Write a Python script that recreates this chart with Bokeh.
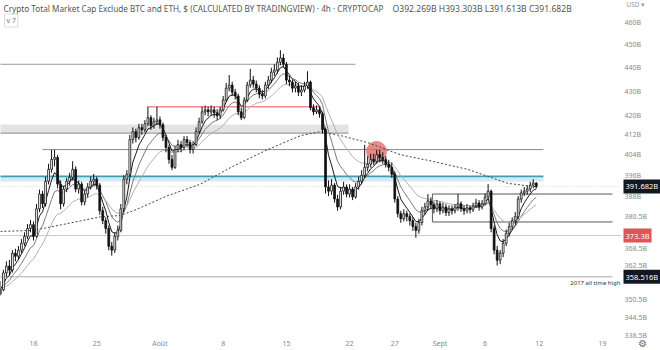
import numpy as np
import pandas as pd
from bokeh.plotting import figure
from bokeh.models import Range1d, FixedTicker, CustomJSTickFormatter, Label
from bokeh.embed import file_html
from bokeh.resources import INLINE

# ---------------- data ----------------
title_text = "Crypto Total Market Cap Exclude BTC and ETH, $ (CALCULATED BY TRADINGVIEW) · 4h · CRYPTOCAP"
ohlc_text = "O392.269B H393.303B L391.613B C391.682B"

origin = pd.Timestamp("2022-07-18")
first_candle = "2022-07-14 08:00"
candle_freq = "8h"
first_open = 352.5

close = [354.0,359.9,362.3,360.9,366.9,365.8,368.0,370.5,373.0,375.9,
377.3,373.0,383.2,388.8,385.1,393.7,398.3,402.2,403.0,392.6,
385.1,390.7,393.7,395.2,398.3,390.7,392.6,385.8,388.8,391.5,
393.7,394.5,392.2,382.5,378.8,375.9,369.4,368.0,373.0,375.2,
383.2,394.5,396.4,410.1,413.3,410.9,414.9,414.1,416.5,419.0,
415.7,417.3,418.1,416.1,410.9,406.9,402.2,399.1,406.1,408.1,
406.9,410.1,408.9,406.1,408.1,413.3,417.3,421.4,422.2,421.4,
422.2,421.0,419.8,422.2,426.3,431.3,432.6,429.6,428.0,421.4,
419.0,426.3,432.6,434.7,433.0,431.3,428.8,428.0,432.6,434.7,
438.1,439.0,442.4,444.2,441.5,434.7,433.9,431.3,432.2,429.6,
430.5,432.2,433.9,423.1,421.4,422.2,420.6,414.1,391.5,389.9,
392.2,386.9,383.9,389.9,391.5,388.8,390.7,387.7,391.5,393.7,
396.0,399.1,400.3,402.2,401.4,404.1,403.0,402.2,400.3,399.1,
396.4,386.9,381.4,379.5,381.4,380.3,378.8,376.6,375.2,378.1,
382.5,383.9,386.2,384.7,383.2,385.1,382.5,383.9,381.8,383.2,
382.5,383.9,385.1,383.2,382.5,383.6,382.9,384.3,385.4,383.9,
385.1,387.7,389.9,375.9,368.0,364.4,366.9,370.5,374.1,376.6,
378.8,380.3,386.9,389.2,389.9,390.7,392.2,393.0,391.7]

high = [357.0,361.0,364.0,364.5,368.0,368.5,369.5,372.0,374.5,377.5,
379.0,378.5,385.0,390.5,390.0,395.5,400.5,406.0,406.0,404.0,
394.0,392.0,395.0,397.0,401.5,399.5,394.0,393.5,390.0,393.0,
395.5,396.5,395.5,393.0,384.0,380.0,377.0,371.0,374.5,377.0,
385.0,396.0,398.0,412.0,415.0,414.5,416.5,416.5,418.0,423.5,
420.0,419.0,423.5,419.5,417.0,412.0,408.0,404.0,407.5,410.0,
409.5,411.5,411.5,410.0,409.5,415.0,419.0,423.5,424.0,423.5,
424.0,423.5,422.5,423.5,428.0,433.5,436.9,434.0,431.0,429.0,
423.0,427.5,434.0,439.5,436.5,434.5,432.5,430.5,434.0,436.5,
440.0,441.5,444.5,447.6,446.0,442.5,436.5,435.0,434.0,433.5,
432.5,434.0,438.5,434.5,424.5,424.0,423.5,421.5,415.0,394.0,
394.5,393.0,388.5,391.5,393.5,392.5,392.5,391.5,393.0,395.5,
398.0,408.0,403.5,404.5,404.5,406.0,406.0,405.0,403.5,402.0,
401.0,397.5,388.0,382.5,383.0,382.5,381.5,380.0,378.0,379.5,
384.0,385.5,388.8,387.5,386.0,386.5,386.0,385.5,385.0,384.5,
384.5,385.0,388.8,386.0,384.5,385.0,384.5,385.5,387.0,386.5,
386.5,389.0,392.6,390.5,377.0,369.5,368.0,372.0,375.5,378.0,
380.0,382.0,388.0,390.5,391.5,392.0,393.5,394.5,393.3]

low = [352.0,353.5,358.5,359.0,360.0,364.0,364.5,367.0,369.5,372.0,
374.5,371.5,372.5,382.0,383.5,384.0,392.5,397.0,399.5,391.0,
383.0,384.0,389.5,392.0,394.0,389.5,389.0,384.5,384.5,387.5,
390.5,392.0,390.5,381.0,377.5,374.0,368.0,366.0,367.0,371.5,
374.5,382.0,392.5,395.5,408.5,409.0,410.0,412.0,413.0,415.5,
414.0,414.5,416.0,414.5,409.5,405.0,400.5,398.0,398.5,405.0,
405.0,406.0,407.0,404.5,404.5,407.5,412.5,416.5,420.0,419.5,
420.0,419.0,418.0,418.5,421.5,425.5,430.0,428.0,426.5,420.0,
418.0,418.5,425.5,431.5,431.5,429.5,427.0,426.5,427.0,431.0,
433.5,436.5,437.5,441.0,440.0,433.0,432.0,429.5,429.5,428.0,
428.0,429.5,431.0,422.0,420.0,420.5,419.0,412.5,389.0,388.0,
388.5,385.5,382.5,383.0,388.5,387.5,387.5,386.5,387.0,390.5,
392.5,395.0,397.5,399.0,400.0,400.5,401.0,400.5,399.0,397.5,
395.0,385.5,380.0,378.0,378.5,378.5,377.0,375.0,372.5,374.0,
377.0,381.0,382.5,383.0,381.5,382.0,381.0,381.5,380.5,380.5,
381.0,381.5,382.5,382.0,381.0,381.5,381.5,382.0,383.5,382.5,
383.0,384.5,386.5,374.5,366.5,362.5,363.0,365.5,369.5,373.0,
375.5,377.5,379.5,385.5,388.0,388.5,389.5,391.0,391.0]

# slow moving average
ma_dates = ["2022-07-14 08:00", "2022-07-18 00:00", "2022-07-21 18:00", "2022-07-25 10:00",
            "2022-07-27 14:00", "2022-07-29 02:00", "2022-08-01 19:00", "2022-08-05 12:00",
            "2022-08-09 02:00", "2022-08-12 22:00", "2022-08-16 14:00", "2022-08-18 19:00",
            "2022-08-21 00:00", "2022-08-24 00:00", "2022-08-27 14:00", "2022-08-31 07:00",
            "2022-09-04 02:00", "2022-09-06 07:00", "2022-09-08 12:00", "2022-09-11 16:00"]
ma_vals = [374.8, 375.2, 377.7, 380.2, 380.7, 382.5, 388.1, 392.6, 399.5, 406.1,
           411.7, 413.3, 411.7, 408.9, 404.1, 401.4, 398.3, 395.6, 392.9, 391.5]

ema_spans = [5, 10, 20]

# drawn levels
grey_top_level = 441.5
grey_top_span = ["2022-07-14 00:00", "2022-08-22 15:30"]
red_level = 423.5
red_span = ["2022-07-30 15:00", "2022-08-18 19:00"]
band_top, band_bottom = 416.2, 412.7
band_span = ["2022-07-14 00:00", "2022-08-21 21:00"]
mid_level = 406.1
mid_span = ["2022-07-19 00:00", "2022-09-12 11:00"]
teal_level, teal_band_bottom = 395.6, 393.6
teal_span = ["2022-07-14 00:00", "2022-09-12 11:00"]
box_top, box_bottom = 388.8, 378.3
box_span = ["2022-08-31 04:00", "2022-09-20 02:30"]
support_level = 373.3
last_price = 391.682
ath_2017 = 358.5168
full_span = ["2022-07-14 00:00", "2022-09-20 02:30"]
scale_edge = "2022-09-21 02:00"
circle_date, circle_price = "2022-08-24 23:30", 405.3

y_ticks = [460, 450, 440, 430, 420, 412, 404, 396, 388, 380.5, 368.5, 362.5, 350.5, 344.5, 338.5]
x_tick_dates = ["2022-07-18", "2022-07-25", "2022-08-01", "2022-08-08", "2022-08-15",
                "2022-08-22", "2022-08-27", "2022-09-01", "2022-09-06", "2022-09-12", "2022-09-19"]
x_tick_labels = ["18", "25", "Août", "8", "15", "22", "27", "Sept", "6", "12", "19"]

# ---------------- helpers ----------------
def to_days(s):
    return (pd.Timestamp(s) - origin) / pd.Timedelta(days=1)

t = pd.date_range(first_candle, periods=len(close), freq=candle_freq)
xc = np.array((t - origin) / pd.Timedelta(days=1), dtype=float)
c = np.array(close)
o = np.array([first_open] + close[:-1])
h = np.array(high)
l = np.array(low)
up = c >= o

W, H = 660, 350
p = figure(width=W, height=H, output_backend="svg", toolbar_location=None,
           y_axis_type="log", y_axis_location="right",
           x_range=Range1d(-3.654, 69.42), y_range=Range1d(334.2, 469.96),
           min_border_left=0, min_border_top=0, min_border_right=0, min_border_bottom=0)
p.outline_line_color = None
p.xgrid.grid_line_color = None
p.ygrid.grid_line_color = None
p.background_fill_color = "white"
p.border_fill_color = "white"

FONT = "Noto Sans"

# band and levels
x0, x1 = to_days(band_span[0]), to_days(band_span[1])
p.quad(left=[x0], right=[x1], top=[band_top], bottom=[band_bottom],
       fill_color="#e3e3e3", line_color=None)
p.segment([x0], [band_bottom], [x1], [band_bottom], line_color="#8c8c8c", line_width=1)

x0, x1 = to_days(teal_span[0]), to_days(teal_span[1])
p.quad(left=[x0], right=[x1], top=[teal_level], bottom=[teal_band_bottom],
       fill_color="#cfecf3", line_color=None)
p.segment([x0], [teal_level], [x1], [teal_level], line_color="#3c9fb4", line_width=1.6)

p.segment([to_days(grey_top_span[0])], [grey_top_level], [to_days(grey_top_span[1])], [grey_top_level],
          line_color="#9a9a9a", line_width=1)
p.segment([to_days(red_span[0])], [red_level], [to_days(red_span[1])], [red_level],
          line_color="#f08c8c", line_width=1.4)
p.segment([to_days(mid_span[0])], [mid_level], [to_days(mid_span[1])], [mid_level],
          line_color="#8a8a8a", line_width=1)

fx0, fx1 = to_days(full_span[0]), to_days(full_span[1])
ex = to_days(scale_edge)
p.segment([fx0], [support_level], [ex], [support_level], line_color="#f3b8b8", line_width=1)
p.segment([fx0], [last_price], [ex], [last_price], line_color="#f1cccc", line_width=1,
          line_dash="1 2")
p.segment([fx0], [ath_2017], [fx1], [ath_2017], line_color="#a8a8a8", line_width=1)

bx0, bx1 = to_days(box_span[0]), to_days(box_span[1])
p.segment([bx0, bx0, bx0], [box_top, box_bottom, box_bottom], [bx1, bx1, bx0], [box_top, box_bottom, box_top],
          line_color="#555555", line_width=1)

# red highlight circle
p.scatter([to_days(circle_date)], [circle_price], size=21, fill_color="#e26d6d",
          fill_alpha=0.8, line_color=None)

# slow MA
p.line([to_days(d) for d in ma_dates], ma_vals, line_color="#444444", line_width=1,
       line_dash="2 2")

# EMAs computed from the closes
ema_colors = ["#1a1a1a", "#7a7a7a", "#b0b0b0"]
for span, col in zip(ema_spans, ema_colors):
    ema = pd.Series(c).ewm(span=span, adjust=False).mean().values
    p.line(xc, ema, line_color=col, line_width=1)

# candles
p.segment(xc, l, xc, h, line_color="#111111", line_width=1)
top = np.maximum(o, c)
bot = np.minimum(o, c)
p.vbar(x=xc[up], width=0.2, top=top[up], bottom=bot[up], fill_color="white",
       line_color="#111111", line_width=0.8)
p.vbar(x=xc[~up], width=0.2, top=top[~up], bottom=bot[~up], fill_color="#111111",
       line_color="#111111", line_width=0.8)

# axes (labels drawn inward over the chart edge, as on the reference)
xa = p.xaxis[0]
xt = [to_days(d) for d in x_tick_dates]
xa.ticker = FixedTicker(ticks=xt)
xa.major_label_overrides = {v: s for v, s in zip(xt, x_tick_labels)}
xa.axis_line_color = None
xa.major_tick_line_color = None
xa.minor_tick_line_color = None
xa.major_tick_out = 0
xa.major_tick_in = 0
xa.major_label_standoff = -10
xa.major_label_text_font_size = "7px"
xa.major_label_text_color = "#8a8a8a"
xa.major_label_text_font = FONT

ya = p.yaxis[0]
ya.ticker = FixedTicker(ticks=y_ticks)
ya.formatter = CustomJSTickFormatter(code="return tick + 'B';")
ya.axis_line_color = None
ya.major_tick_line_color = None
ya.minor_tick_line_color = None
ya.major_tick_out = 0
ya.major_tick_in = 0
ya.major_label_standoff = -36
ya.major_label_text_font_size = "7px"
ya.major_label_text_color = "#8a8a8a"
ya.major_label_text_font = FONT

def top_label(text, x, y_from_top, **kw):
    lab = Label(x=x, y=H - y_from_top, x_units="screen", y_units="screen", text=text,
                text_font=FONT, text_baseline="middle", **kw)
    p.add_layout(lab)
    return lab

top_label(title_text, 3, 10, text_font_size="8.2px", text_color="#555555")
top_label(ohlc_text, 392, 10, text_font_size="8.6px", text_color="#555555")
top_label("v 7", 4, 22, text_font_size="7px", text_color="#777777",
          border_line_color="#dddddd", background_fill_color="white", padding=2)
top_label("USD ▾", 626, 6, text_font_size="6.5px", text_color="#9a9a9a")
top_label("⚙", 637, 344, text_font_size="10px", text_color="#666666")

for val, bg, txt in [(last_price, "#131722", "391.682B"), (support_level, "#e05555", "373.3B"),
                     (ath_2017, "#131722", "358.516B")]:
    lab = Label(x=623, y=val, x_units="screen", y_units="data", text=txt,
                text_font=FONT, text_font_size="7.5px", text_color="white",
                text_baseline="middle", background_fill_color=bg, padding=2)
    p.add_layout(lab)

p.add_layout(Label(x=620, y=ath_2017, x_units="screen", y_units="data", y_offset=-2,
                   text="2017 all time high", text_font=FONT, text_font_size="6px",
                   text_color="#333333", text_align="right", text_baseline="top"))

open("out.html", "w").write(file_html(p, INLINE))
